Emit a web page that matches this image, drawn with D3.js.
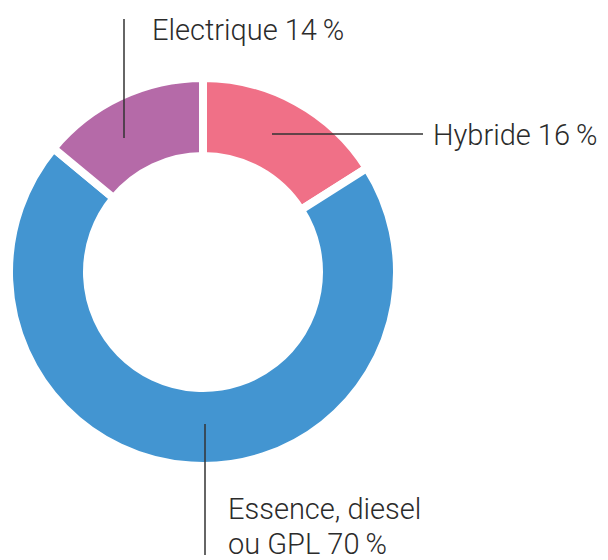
<!DOCTYPE html>
<html>
<head>
<meta charset="utf-8">
<script src="https://cdn.jsdelivr.net/npm/d3@7"></script>
<style>
  body { margin: 0; background: #fff; }
  text { font-family: Roboto, "Liberation Sans", sans-serif; font-weight: 300; fill: #2b2b2b; }
</style>
</head>
<body>
<svg id="chart"></svg>
<script>
// données
const categories = ['Hybride', 'Essence, diesel ou GPL', 'Electrique'];
const values = [16, 70, 14];
const colors = ['#f07087', '#4395d1', '#b56aa8'];
const labels = [['Hybride 16\u2009%'], ['Essence, diesel', 'ou GPL 70\u2009%'], ['Electrique 14\u2009%']];

const width = 608, height = 560;
const cx = 203, cy = 272;
const outerR = 194, innerR = 116;

const svg = d3.select('#chart')
    .attr('width', width)
    .attr('height', height);

const g = svg.append('g')
    .attr('transform', `translate(${cx},${cy})`);

const pie = d3.pie()
    .sort(null)
    .value(d => d.value);

const arc = d3.arc()
    .innerRadius(innerR)
    .outerRadius(outerR);

const data = categories.map((c, i) => ({name: c, value: values[i], color: colors[i], label: labels[i]}));
const arcs = pie(data);

g.selectAll('path')
    .data(arcs)
    .enter()
    .append('path')
    .attr('d', arc)
    .attr('fill', d => d.data.color)
    .attr('stroke', '#fff')
    .attr('stroke-width', 8)
    .attr('stroke-linejoin', 'miter');

// lignes de rappel (positions relatives au centre)
const leaders = [
    {x1: 69, y1: -138, x2: 220, y2: -138, tx: 230, ty: -127}, // Hybride
    {x1: 2, y1: 152, x2: 2, y2: 283, tx: 25, ty: 247},          // Essence
    {x1: -79, y1: -134, x2: -79, y2: -253, tx: -51, ty: -232}  // Electrique
];

const lab = g.selectAll('g.lab')
    .data(arcs)
    .enter()
    .append('g')
    .attr('class', 'lab');

lab.append('line')
    .attr('x1', (d, i) => leaders[i].x1)
    .attr('y1', (d, i) => leaders[i].y1)
    .attr('x2', (d, i) => leaders[i].x2)
    .attr('y2', (d, i) => leaders[i].y2)
    .attr('stroke', '#333')
    .attr('stroke-width', 1.5);

lab.append('text')
    .attr('x', (d, i) => leaders[i].tx)
    .attr('y', (d, i) => leaders[i].ty)
    .attr('font-size', 29)
    .selectAll('tspan')
    .data((d, i) => d.data.label.map(t => ({t, x: leaders[i].tx})))
    .enter()
    .append('tspan')
    .attr('x', d => d.x)
    .attr('dy', (d, j) => j === 0 ? 0 : 35)
    .text(d => d.t);
</script>
</body>
</html>
